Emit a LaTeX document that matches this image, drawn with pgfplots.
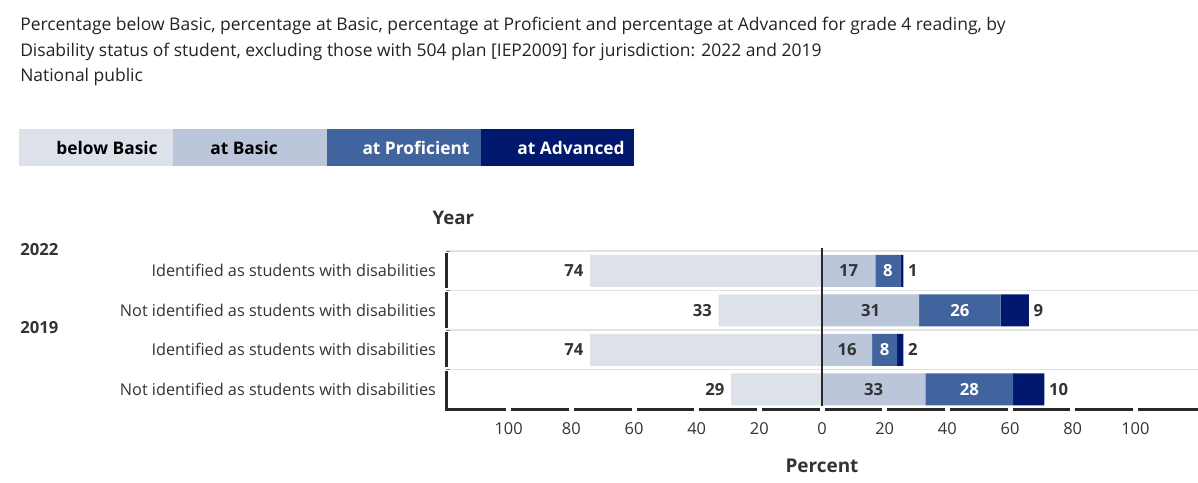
\documentclass[border=0pt]{standalone}
\usepackage{fontspec}
\setmainfont{Open Sans}
\usepackage{pgfplots}
\pgfplotsset{compat=1.18}

\definecolor{belowc}{RGB}{221,225,234}
\definecolor{basicc}{RGB}{188,198,218}
\definecolor{profc}{RGB}{66,100,158}
\definecolor{advc}{RGB}{0,24,110}
\definecolor{txt}{RGB}{34,34,34}
\definecolor{lab}{RGB}{51,51,51}
\definecolor{axc}{RGB}{40,40,40}
\definecolor{gridc}{RGB}{226,226,226}

\newcommand{\labfont}{\fontsize{12.5}{14}\selectfont\bfseries}

% common geometry of the two overlaid axes (1 px = 0.75 pt)
\pgfplotsset{panel/.style={
    scale only axis, width=564pt, height=118.5pt,
    at={(334.5pt,-306.75pt)}, anchor=south west,
    xmin=-120, xmax=120, ymin=-0.5, ymax=3.5, y dir=reverse,
    bar width=24pt}}

\begin{document}
\begin{tikzpicture}
\useasboundingbox (0,0) rectangle (898.5pt,-361.5pt);

% title
\begin{scope}[every node/.style={anchor=base west, inner sep=0pt, text=txt, font=\fontsize{13.1}{15}\selectfont}]
\node at (15pt,-22.5pt) {Percentage below Basic, percentage at Basic, percentage at Proficient and percentage at Advanced for grade 4 reading, by};
\node at (15pt,-42.4pt) {Disability status of student, excluding those with 504 plan [IEP2009] for jurisdiction: 2022 and 2019};
\node at (15pt,-61.1pt) {National public};
\end{scope}

% legend
\fill[belowc] (14.25pt,-96.75pt) rectangle (129.75pt,-124.5pt);
\fill[basicc] (129.75pt,-96.75pt) rectangle (245.25pt,-124.5pt);
\fill[profc] (245.25pt,-96.75pt) rectangle (360.75pt,-124.5pt);
\fill[advc] (360.75pt,-96.75pt) rectangle (475.5pt,-124.5pt);
\begin{scope}[every node/.style={inner sep=0pt, font=\fontsize{13}{15}\selectfont\bfseries}]
\node[text=black] at (80.25pt,-111pt) {below Basic};
\node[text=black] at (183pt,-111pt) {at Basic};
\node[text=white] at (312pt,-111pt) {at Proficient};
\node[text=white] at (428.25pt,-111pt) {at Advanced};
\end{scope}

% group headings
\node[anchor=base, inner sep=0pt, text=lab, font=\fontsize{14}{16}\selectfont\bfseries] at (340pt,-168pt) {Year};
\node[anchor=base west, inner sep=0pt, text=lab, font=\labfont] at (15pt,-191.25pt) {2022};
\node[anchor=base west, inner sep=0pt, text=lab, font=\labfont] at (15pt,-249.75pt) {2019};
\node[anchor=base, inner sep=0pt, text=lab, font=\fontsize{14.2}{16}\selectfont\bfseries] at (616.5pt,-354pt) {Percent};

% positive levels, stacked from 0
\begin{axis}[panel,
    xbar stacked,
    axis lines*=left, axis line style={draw=none},
    major tick length=0pt,
    xtick={-100,-80,...,100},
    xticklabels={100,80,60,40,20,0,20,40,60,80,100},
    ytick={0,1,2,3},
    yticklabels={Identified as students with disabilities,
                 Not identified as students with disabilities,
                 Identified as students with disabilities,
                 Not identified as students with disabilities},
    minor ytick={-0.5,0.5,1.5,2.5},
    yminorgrids,
    minor grid style={gridc, line width=1.2pt},
    /pgf/number format/assume math mode=true,
    xticklabel style={text=lab, font=\fontsize{12.3}{14}\selectfont, yshift=-6.5pt},
    yticklabel style={text=lab, font=\fontsize{12.2}{14}\selectfont, xshift=-4pt},
  ]
\addplot[fill=basicc, draw=none] coordinates {(17,0) (31,1) (16,2) (33,3)};
\addplot[fill=profc, draw=none] coordinates {(8,0) (26,1) (8,2) (28,3)};
\addplot[fill=advc, draw=none] coordinates {(1,0) (9,1) (2,2) (10,3)};
\end{axis}

% below Basic to the left of 0, value labels and axis lines
\begin{axis}[panel, hide axis, clip=false]
\addplot[xbar, bar shift=0pt, fill=belowc, draw=none] coordinates {(-74,0) (-33,1) (-74,2) (-29,3)};

\addplot[draw=none, mark=none, nodes near coords, point meta=explicit symbolic,
  every node near coord/.style={anchor=east, xshift=-1.5pt, text=lab, font=\labfont}]
  coordinates {(-74,0) [74] (-33,1) [33] (-74,2) [74] (-29,3) [29]};
\addplot[draw=none, mark=none, nodes near coords, point meta=explicit symbolic,
  every node near coord/.style={anchor=center, text=lab, font=\labfont}]
  coordinates {(8.5,0) [17] (15.5,1) [31] (8,2) [16] (16.5,3) [33]};
\addplot[draw=none, mark=none, nodes near coords, point meta=explicit symbolic,
  every node near coord/.style={anchor=center, text=white, font=\labfont}]
  coordinates {(21,0) [8] (44,1) [26] (20,2) [8] (47,3) [28]};
\addplot[draw=none, mark=none, nodes near coords, point meta=explicit symbolic,
  every node near coord/.style={anchor=west, text=lab, font=\labfont}]
  coordinates {(26,0) [1] (66,1) [9] (26,2) [2] (71,3) [10]};

% zero line
\draw[axc, line width=1.5pt] (axis cs:0,-0.58) -- (axis cs:0,3.42);
% left axis, one piece per row
\draw[axc, line width=2.25pt] (axis cs:-120,-0.45) -- (axis cs:-120,0.44);
\draw[axc, line width=2.25pt] (axis cs:-120,0.55) -- (axis cs:-120,1.44);
\draw[axc, line width=2.25pt] (axis cs:-120,1.55) -- (axis cs:-120,2.44);
\draw[axc, line width=2.25pt] (axis cs:-120,2.55) -- (axis cs:-120,3.5) -- (axis cs:-100.8,3.5);
% bottom axis, broken at the ticks
\pgfplotsinvokeforeach{-80,-60,...,100}{
  \draw[axc, line width=2.25pt] (axis cs:#1-19.2,3.5) -- (axis cs:#1-0.8,3.5);
}
\draw[axc, line width=2.25pt] (axis cs:100.8,3.5) -- (axis cs:120,3.5);
\end{axis}
\end{tikzpicture}
\end{document}
